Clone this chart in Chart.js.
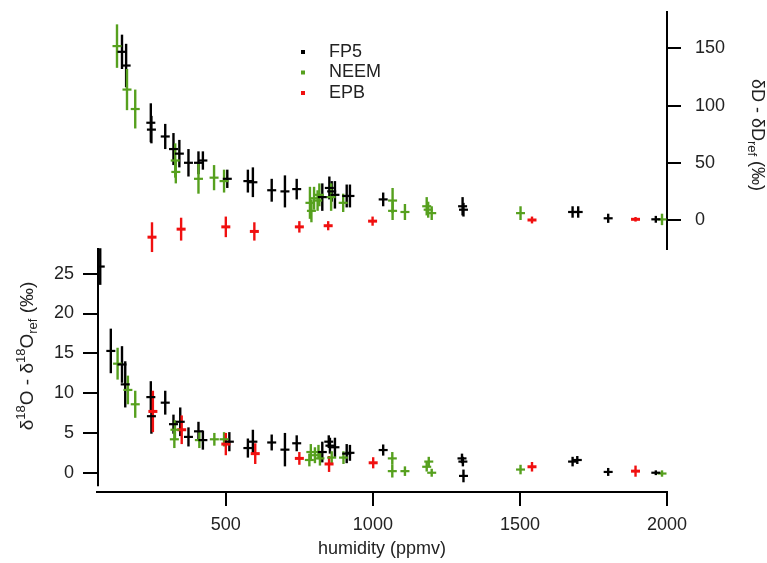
<!DOCTYPE html>
<html>
<head>
<meta charset="utf-8">
<script src="https://cdn.jsdelivr.net/npm/chart.js@4.4.1/dist/chart.umd.min.js"></script>
<style>
  body { margin: 0; background: #fff; }
  #wrap { position: relative; width: 767px; height: 563px; }
  #wrap canvas { position: absolute; left: 0; top: 0; }
</style>
</head>
<body>
<div id="wrap">
  <canvas id="oChart" width="767" height="563"></canvas>
  <canvas id="dChart" width="767" height="563"></canvas>
</div>
<script>
// upper panel: dD - dDref (permil), right axis
const fp5DX = [147, 161, 245, 247, 294, 322, 342, 373, 407, 422, 505, 575, 592, 656, 701, 741, 828, 852, 860, 871, 911, 922, 1035, 1305, 1308, 1679, 1698, 1800, 1962];
const fp5DY = [147, 135, 85, 79, 73, 62, 58, 50, 50, 52, 36, 34, 33, 26, 25, 27, 20, 28, 25, 22, 21, 21, 18, 12, 9, 7, 7, 1.5, 0.6];
const fp5DErr = [15, 19, 17, 12, 11, 14, 12, 12, 10, 8, 8, 10, 13, 10, 14, 9, 12, 10, 9, 12, 10, 10, 6, 8, 6, 5, 5, 4, 3];

const neemDX = [130, 164, 192, 328, 330, 407, 460, 494, 786, 791, 800, 812, 818, 858, 899, 1067, 1067, 1109, 1183, 1188, 1200, 1502, 1983];
const neemDY = [152, 114, 97, 52, 42, 36, 37, 34, 15, 8, 19, 17, 22, 20, 15, 17, 8, 7, 12, 9, 6, 6, 0.5];
const neemDErr = [19, 18, 17, 15, 10, 13, 11, 10, 14, 10, 10, 9, 10, 12, 8, 11, 8, 7, 8, 7, 6, 6, 5];

const epbDX = [249, 348, 500, 597, 750, 848, 999, 1541, 1893];
const epbDY = [-15, -8, -6, -10, -6, -5, -1, 0, 0.6];
const epbDErr = [13, 10, 9, 8, 5, 4, 4, 3, 2];

// lower panel: d18O - d18Oref (permil), left axis
const fp5OX = [73, 109, 147, 158, 245, 247, 294, 322, 345, 373, 407, 422, 512, 575, 592, 656, 701, 741, 828, 850, 854, 871, 911, 922, 1035, 1303, 1306, 1308, 1679, 1695, 1800, 1962];
const fp5OY = [25.9, 15.3, 13.6, 11.1, 9.5, 7.1, 8.8, 6.1, 6.4, 4.5, 5.2, 4.1, 3.9, 3.1, 3.9, 3.8, 2.9, 3.7, 2.6, 3.9, 3.4, 3.2, 2.4, 2.5, 2.85, 1.8, 1.4, -0.4, 1.4, 1.6, 0.1, 0];
const fp5OErr = [2.3, 2.8, 2.3, 2.9, 2, 2.2, 1.5, 1.2, 1.8, 1.2, 1.2, 1.2, 1.2, 1.2, 1.5, 1, 2.1, 1, 1.3, 0.8, 1, 1.2, 1.2, 1, 0.7, 0.6, 0.6, 0.8, 0.6, 0.5, 0.5, 0.3];

const neemOX = [132, 167, 192, 325, 327, 410, 461, 494, 784, 789, 803, 815, 820, 860, 900, 1066, 1066, 1109, 1183, 1190, 1200, 1502, 1983];
const neemOY = [13.7, 10.4, 8.6, 4.2, 5.4, 4.1, 4.2, 4.2, 1.6, 2.6, 2.2, 2.6, 1.8, 1.9, 1.9, 1.8, 0.2, 0.2, 0.75, 1.4, 0, 0.4, -0.1];
const neemOErr = [2, 1.8, 1.7, 1.1, 1.2, 1, 0.8, 0.9, 0.8, 1, 1, 0.9, 0.9, 0.8, 0.8, 0.8, 0.8, 0.6, 0.6, 0.6, 0.5, 0.6, 0.4];

const epbOX = [252, 350, 500, 600, 750, 851, 1001, 1541, 1893];
const epbOY = [7.7, 5.4, 3.6, 2.4, 1.8, 1.1, 1.25, 0.75, 0.2];
const epbOErr = [2.6, 1.8, 1.4, 1.3, 0.8, 1, 0.7, 0.6, 0.7];

const xTicks = [500, 1000, 1500, 2000];
const dTicks = [0, 50, 100, 150];
const oTicks = [0, 5, 10, 15, 20, 25];

const FONT = '"Liberation Sans", Arial, sans-serif';
const TXT = '#222';
Chart.defaults.font.family = FONT;

function pts(xs, ys, es) {
  return xs.map((x, i) => ({ x: x, y: ys[i], e: es[i] }));
}

function series(label, color, xs, ys, es, w) {
  return {
    label: label,
    data: pts(xs, ys, es),
    borderColor: color,
    backgroundColor: color,
    pointStyle: 'line',
    pointRadius: 4.5,
    borderWidth: w
  };
}

// vertical error bars
const errorBars = {
  id: 'errorBars',
  beforeDatasetsDraw(chart) {
    const { ctx, scales: { x, y } } = chart;
    ctx.save();
    chart.data.datasets.forEach(ds => {
      ctx.strokeStyle = ds.borderColor;
      ctx.lineWidth = 2.4;
      ds.data.forEach(p => {
        const px = x.getPixelForValue(p.x);
        ctx.beginPath();
        ctx.moveTo(px, y.getPixelForValue(p.y - p.e));
        ctx.lineTo(px, y.getPixelForValue(p.y + p.e));
        ctx.stroke();
      });
    });
    ctx.restore();
  }
};

function drawRich(ctx, parts, cx, cy, angle) {
  ctx.save();
  ctx.translate(cx, cy);
  ctx.rotate(angle);
  ctx.fillStyle = TXT;
  ctx.textBaseline = 'alphabetic';
  let total = 0;
  parts.forEach(p => {
    ctx.font = p.size + 'px ' + FONT;
    p.w = ctx.measureText(p.t).width;
    total += p.w;
  });
  let xx = -total / 2;
  parts.forEach(p => {
    ctx.font = p.size + 'px ' + FONT;
    ctx.fillText(p.t, xx, 6 + (p.dy || 0));
    xx += p.w;
  });
  ctx.restore();
}

const dTitle = {
  id: 'dTitle',
  afterDraw(chart) {
    drawRich(chart.ctx, [
      { t: 'δD - δD', size: 18 },
      { t: 'ref', size: 13, dy: 4 },
      { t: ' (‰)', size: 18 }
    ], 758, 135, Math.PI / 2);
  }
};

const oTitle = {
  id: 'oTitle',
  afterDraw(chart) {
    drawRich(chart.ctx, [
      { t: 'δ', size: 19 },
      { t: '18', size: 13, dy: -8 },
      { t: 'O - δ', size: 19 },
      { t: '18', size: 13, dy: -8 },
      { t: 'O', size: 19 },
      { t: 'ref', size: 13, dy: 4 },
      { t: ' (‰)', size: 19 }
    ], 27, 356, -Math.PI / 2);
  }
};

// left axis line stops short of the x axis, as in the figure
const oAxisLine = {
  id: 'oAxisLine',
  afterDraw(chart) {
    const { ctx, chartArea, scales: { y } } = chart;
    ctx.save();
    ctx.strokeStyle = '#000';
    ctx.lineWidth = 2;
    ctx.beginPath();
    ctx.moveTo(chartArea.left + 1, chartArea.top);
    ctx.lineTo(chartArea.left + 1, y.getPixelForValue(-1.7));
    ctx.stroke();
    ctx.restore();
  }
};

const legendBox = {
  id: 'legendBox',
  afterDraw(chart) {
    const ctx = chart.ctx;
    ctx.save();
    ctx.font = '18px ' + FONT;
    ctx.textBaseline = 'middle';
    chart.data.datasets.forEach((ds, i) => {
      const yy = 52 + i * 20.5;
      ctx.fillStyle = ds.borderColor;
      ctx.fillRect(301, yy - 2, 4, 4);
      ctx.fillStyle = TXT;
      ctx.fillText(ds.label, 329, yy);
    });
    ctx.restore();
  }
};

const GREEN = '#56a01e';
const RED = '#f01010';
const BLACK = '#000';

const axisGrid = { drawOnChartArea: false, color: '#000', lineWidth: 2, tickLength: 14 };
const tickFont = { family: FONT, size: 18 };

function fitY(w) {
  return s => { s.width = w; s.paddingTop = 0; s.paddingBottom = 0; };
}

new Chart(document.getElementById('oChart'), {
  type: 'scatter',
  data: {
    datasets: [
      series('FP5', BLACK, fp5OX, fp5OY, fp5OErr, 2.2),
      series('NEEM', GREEN, neemOX, neemOY, neemOErr, 2.2),
      series('EPB', RED, epbOX, epbOY, epbOErr, 3)
    ]
  },
  options: {
    responsive: false,
    animation: false,
    events: [],
    layout: { padding: { top: 248, right: 100, left: 0, bottom: 0 } },
    plugins: { legend: { display: false }, tooltip: { enabled: false } },
    scales: {
      x: {
        type: 'linear', min: 62, max: 2000,
        afterBuildTicks: s => { s.ticks = xTicks.map(v => ({ value: v })); },
        afterFit: s => { s.height = 71; s.paddingLeft = 0; s.paddingRight = 0; },
        grid: axisGrid,
        border: { display: true, color: '#000', width: 2 },
        ticks: { font: tickFont, color: TXT, padding: 8, callback: v => String(v) },
        title: { display: true, text: 'humidity (ppmv)', font: tickFont, color: TXT, padding: { top: 0, bottom: 3 } }
      },
      y: {
        type: 'linear', position: 'left', min: -2.42, max: 28.23,
        afterBuildTicks: s => { s.ticks = oTicks.map(v => ({ value: v })); },
        afterFit: fitY(97),
        grid: axisGrid,
        border: { display: false },
        ticks: { font: tickFont, color: TXT, padding: 9, callback: v => String(v) }
      }
    }
  },
  plugins: [errorBars, oTitle, oAxisLine]
});

new Chart(document.getElementById('dChart'), {
  type: 'scatter',
  data: {
    datasets: [
      series('FP5', BLACK, fp5DX, fp5DY, fp5DErr, 2.2),
      series('NEEM', GREEN, neemDX, neemDY, neemDErr, 2.2),
      series('EPB', RED, epbDX, epbDY, epbDErr, 3)
    ]
  },
  options: {
    responsive: false,
    animation: false,
    events: [],
    layout: { padding: { top: 12, right: 0, left: 97, bottom: 314 } },
    plugins: { legend: { display: false }, tooltip: { enabled: false } },
    scales: {
      x: { type: 'linear', min: 62, max: 2000, display: false },
      y: {
        type: 'linear', position: 'right', min: -25.35, max: 181.8,
        afterBuildTicks: s => { s.ticks = dTicks.map(v => ({ value: v })); },
        afterFit: fitY(100),
        grid: axisGrid,
        border: { display: true, color: '#000', width: 2 },
        ticks: { font: tickFont, color: TXT, padding: 14, callback: v => String(v) }
      }
    }
  },
  plugins: [errorBars, dTitle, legendBox]
});
</script>
</body>
</html>
